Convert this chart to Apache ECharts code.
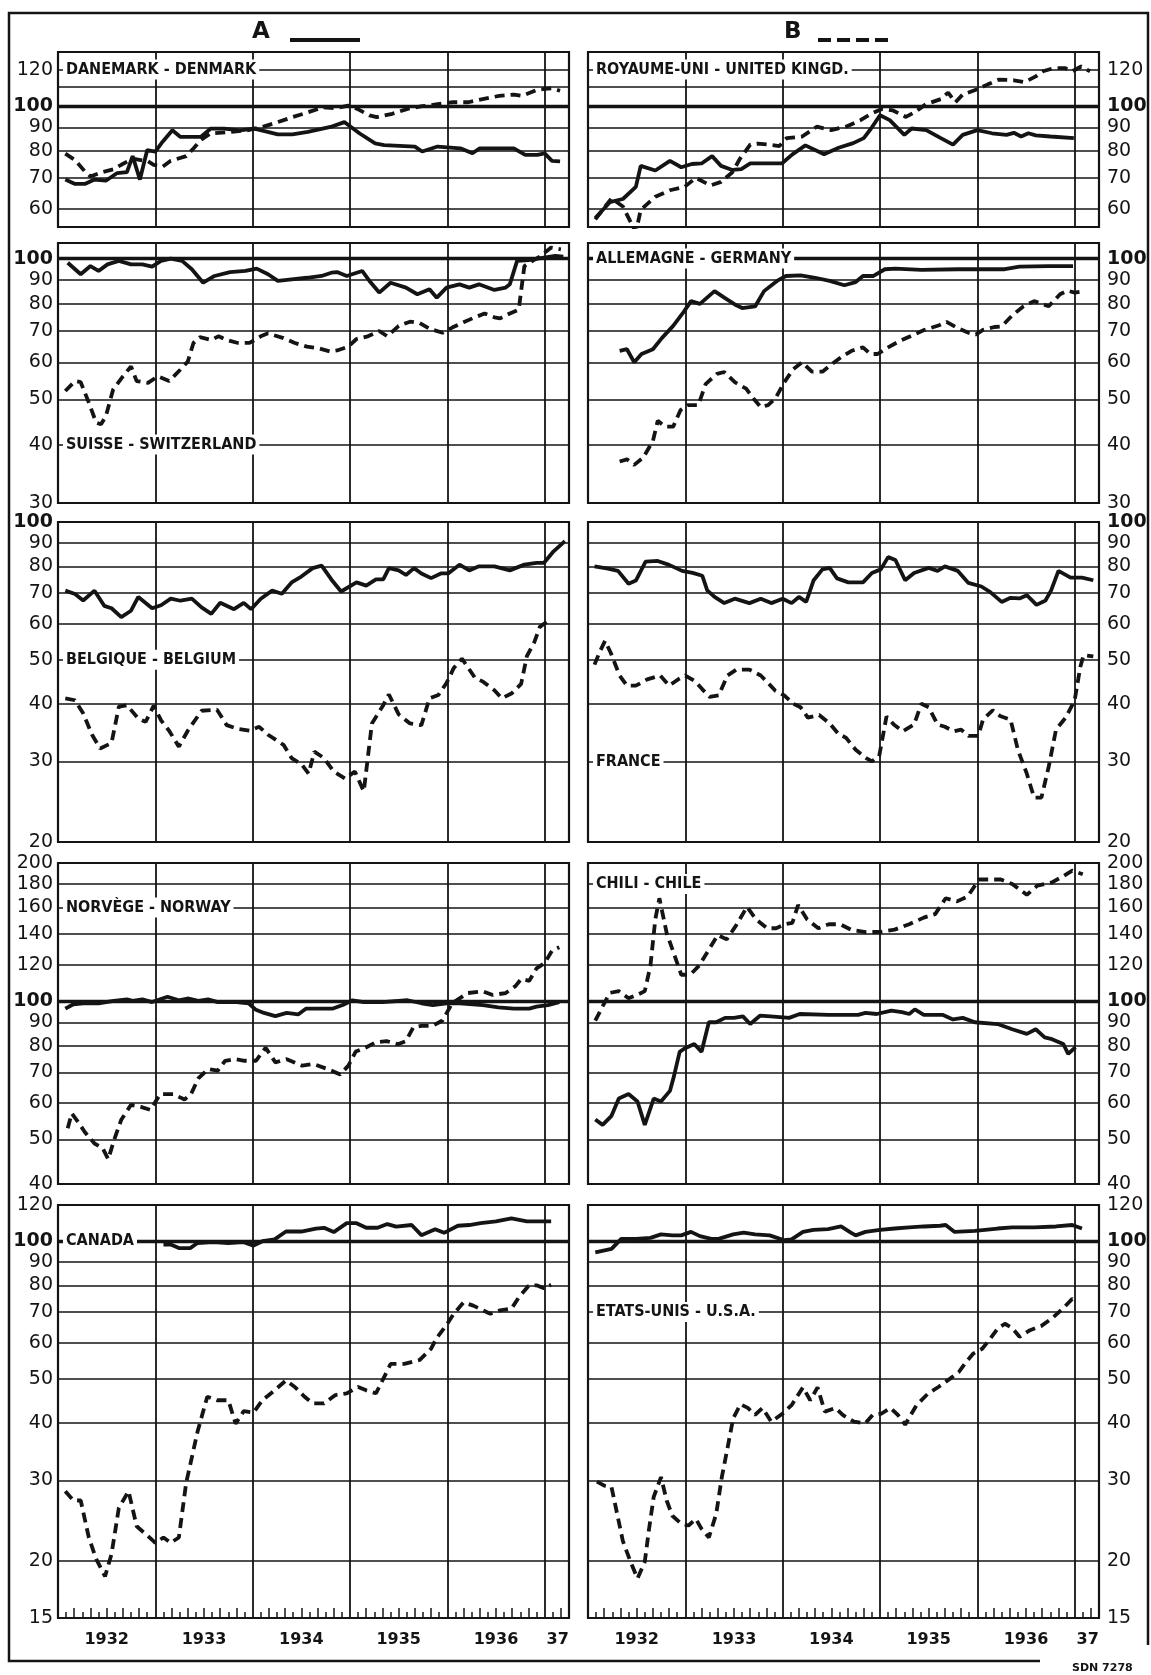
<!DOCTYPE html>
<html><head><meta charset="utf-8">
<script src="https://cdn.jsdelivr.net/npm/echarts@6/dist/echarts.min.js"></script>
<style>html,body{margin:0;padding:0;background:#fff}#c{width:1151px;height:1675px}</style>
</head><body><div id="c"></div>
<script>
// ---- DATA: [month since Jan 1932, index value] ----
const denmarkA = [[0.9,69.4],[2.1,67.9],[3.3,67.9],[4.5,69.4],[5.9,69.0],[7.3,71.7],[8.5,72],[9.2,78],[10.1,69.4],[11,80.4],[12,79.8],[12.9,83.8],[14.1,88.7],[15.1,85.8],[17.6,85.8],[18.8,89.4],[20.5,89.4],[22.4,88.7],[24.2,89.4],[27.1,86.9],[28.9,86.9],[30.8,88],[33.6,90.2],[35.3,92.4],[37.2,87.3],[39.1,83.1],[40.2,82.4],[42.1,82.1],[44,81.8],[44.9,79.8],[46.8,81.8],[49.6,81.1],[51.1,79.1],[52,81.1],[56.2,81.1],[57.6,78.5],[59.1,78.5],[60,79.1],[60.9,76.2],[61.9,76]];
const denmarkB = [[0.9,79],[2.1,76.5],[3.3,72.3],[4,70.5],[5.4,72],[6.8,73],[7.8,74.7],[9.2,77],[11.1,76],[11.8,74.7],[12.9,74],[13.9,76.2],[15.8,78],[16.7,81],[17.6,84.5],[18.8,87.3],[21.4,88],[23.3,88.7],[25.2,90.2],[27.1,92.4],[28.9,94.7],[30.8,97],[32.7,99.5],[34.1,99],[35.8,100.3],[36.9,98.7],[38.4,95.5],[39.3,94.7],[41.2,96.3],[43.1,98.7],[44.9,100],[46.8,101],[48.7,102],[50.6,102],[52.5,103.7],[54.4,105.3],[56.2,106],[57.2,105.3],[59.1,108.5],[60,109],[60.9,109.3],[61.9,108]];
const ukA = [[0.9,57.3],[2.7,62],[4.3,63],[5.9,66.9],[6.5,74.3],[8.3,72.6],[10.1,76.2],[11.5,73.8],[12.8,75],[14,75.2],[15.3,78],[16.4,74.3],[17.8,72.8],[18.9,73.1],[20,75.2],[21.8,75.2],[23.9,75.2],[25.2,78.7],[26.8,82.3],[29.1,78.7],[30.9,81.3],[32.7,83.2],[34,85.3],[34.9,89.5],[36,95.6],[37.2,93.3],[39,86.7],[39.9,89.5],[41.7,88.8],[43.5,85.3],[45,82.6],[46.2,86.7],[48,88.8],[49.8,87.4],[51.6,86.7],[52.5,87.6],[53.4,86],[54.3,87.4],[55.2,86.5],[57,86],[59.9,85.3]];
const ukB = [[0.9,56.9],[2.9,63.2],[4.3,60.7],[5.9,53.3],[6.5,59.7],[8.3,63.7],[10.1,65.8],[11.9,66.9],[13.3,70],[15.1,67.4],[16.4,68.6],[17.8,72],[18.7,76.8],[20,82.6],[20.9,83],[22.3,82.6],[23.6,82],[24.5,85.3],[26.4,86],[28.2,90.3],[30,88.8],[31.8,90.3],[33.6,93.3],[34.9,96.3],[36.3,98.7],[37.6,97.9],[39.2,94.8],[40.3,97.1],[41.7,101.1],[43.5,103.6],[44.4,107],[45.3,102],[46.2,106],[48,108.8],[49.3,111.5],[50.7,114.2],[52.5,113.8],[53.8,112.7],[55.2,116],[56.1,119],[57.4,120.9],[58.8,120.9],[59.7,119],[60.8,121.9],[61.9,119]];
const swissA = [[1.2,98],[2.8,92.6],[4,96.4],[5,94.1],[6.1,97.2],[7.5,98.9],[9,97.2],[10.4,97.2],[11.6,96.1],[12.7,98.9],[13.9,100],[15.3,98.9],[16.5,94.9],[17.9,88.8],[19.3,91.8],[21.2,93.6],[23.1,94.1],[24.5,95.2],[25.9,92.6],[27.1,89.6],[28.8,90.3],[30.7,91],[32.5,91.8],[33.7,93.3],[34.4,93.6],[35.6,91.8],[37.5,94.1],[38.4,89.6],[39.6,84.6],[41,88.8],[42.9,86.7],[44.3,83.9],[45.8,86],[46.7,82.5],[47.9,86.7],[49.5,88.1],[50.7,86.7],[51.9,88.1],[53.8,85.7],[55.2,86.7],[55.7,88.1],[56.6,98.9],[58,99.3],[59.9,100.5],[61.3,101.3],[62.3,101]];
const swissB = [[0.9,52.1],[2.1,54.7],[2.8,54.4],[3.8,49.2],[4.7,44.6],[5.3,44.2],[5.9,46],[6.8,52.5],[8,56],[9,58.8],[9.7,54.7],[11.1,54.2],[12.3,56],[13.7,54.7],[15.1,57.9],[16,60.2],[16.7,66],[17.5,67.9],[18.9,67],[19.8,68.2],[20.8,67],[22.2,66],[23.6,66],[25,68.2],[25.9,69.2],[27.8,67.6],[29.2,66],[30.7,64.8],[32.1,64.3],[33.5,63.3],[34.4,63.6],[35.8,64.8],[36.8,67.3],[38.2,68.2],[39.6,70],[40.6,68.2],[42,71.8],[43.4,73.3],[44.6,72.8],[45.8,70.8],[47.4,69.4],[48.6,71.2],[50,73.1],[51.4,74.9],[52.6,76.3],[53.8,74.9],[54.5,74.5],[55.7,76.3],[56.8,77.8],[57.5,96.4],[58.5,98.9],[59.4,101],[60.8,105.6],[62,104.7]];
const germanyA = [[3.9,63.5],[4.8,64],[5.7,60],[6.6,62.5],[8,64],[9.1,67.6],[10.5,71.8],[11.8,76.9],[12.7,81.1],[13.8,80],[15.6,85.2],[16.8,82.5],[18.1,79.8],[19,78.4],[20.6,79],[21.7,85.2],[23.3,89.6],[24.4,91.8],[26.2,92.1],[28,91],[29.8,89.6],[31.6,87.7],[33,89.1],[33.9,91.8],[35.2,91.8],[36.6,94.9],[37.9,95.2],[41.1,94.6],[45.6,94.9],[51.4,94.9],[53.2,96.1],[56.8,96.4],[59.8,96.4]];
const germanyB = [[3.9,36.8],[4.8,37.2],[5.7,36.2],[6.8,37.5],[8,40.7],[8.6,45],[9.5,43.7],[10.5,43.7],[11.4,47.4],[12.3,48.6],[13.6,48.6],[14.5,53.9],[15.9,56.7],[16.8,57.2],[18.1,54.4],[19.5,52.7],[20.4,50.2],[21.3,48.1],[22.2,48.6],[23.1,50.2],[24.2,54.4],[25.3,58],[26.4,60],[27.6,57.3],[28.9,57.3],[29.8,59],[31.2,61.5],[32.5,63.5],[33.9,64.6],[34.8,62.5],[35.7,62.5],[37,64.6],[38.4,66.6],[40.2,68.8],[41.5,70.4],[43.3,72],[44.2,73.2],[45.6,71],[46.9,69.4],[47.8,68.8],[48.7,70.4],[50.1,71.4],[51,71.6],[52.3,75.6],[53.7,79.1],[55,81.1],[56.8,79.1],[58.2,83.9],[59.1,85.4],[60,84.6],[60.9,85.1]];
const belgiumA = [[0.9,70.8],[2.1,69.6],[3.1,67.4],[4.5,70.8],[5.7,65.6],[6.6,64.8],[7.8,62],[9,64],[9.9,68.6],[11.6,64.8],[12.7,65.8],[13.9,68],[15.1,67.3],[16.5,68],[17.7,65.1],[18.9,63],[20,66.6],[21.7,64.5],[22.9,66.6],[23.8,64.5],[25,68],[26.4,70.8],[27.6,69.7],[28.8,73.8],[30,76],[31.4,79.3],[32.5,80.3],[33.7,74.9],[34.9,70.5],[36.8,73.8],[38,72.6],[39.2,74.9],[40.1,74.9],[40.8,79.3],[42,78.4],[42.9,76.6],[43.9,79.3],[44.8,77.2],[46,75.4],[47.2,77.2],[48.1,77.2],[49.5,80.7],[50.7,78.4],[51.9,80],[53.8,80],[55.7,78.4],[57.5,80.7],[59,81.4],[59.9,81.4],[61.1,86.3],[62.5,90.8]];
const belgiumB = [[0.9,41.2],[2.1,40.8],[3.1,38.2],[4.2,34.3],[5.2,32],[6.6,32.9],[7.5,39.5],[8.5,39.8],[9.9,37.2],[10.8,36.6],[11.8,39.7],[12.7,36.9],[13.7,35],[14.9,32.3],[16,35],[17.7,38.7],[19.6,38.9],[20.8,36],[22.2,35.3],[23.6,35],[24.8,35.7],[25.9,34.3],[27.8,32.6],[28.8,30.5],[30,29.6],[30.9,28.2],[31.6,31.5],[32.8,30.5],[34,28.5],[35.4,27.5],[36.6,28.5],[37.7,25.8],[38.7,36.3],[40.1,39.8],[40.8,42],[42,38],[43.4,36.3],[44.8,36],[45.8,41.2],[46.9,41.9],[47.9,44.5],[48.8,48],[49.8,50.3],[51.4,45.7],[52.4,44.8],[53.8,42.9],[54.7,41.2],[55.9,42.2],[57.1,44.3],[57.8,50.9],[58.7,54.5],[59.4,59],[60.8,61.5]];
const franceA = [[0.8,80],[2.3,79.2],[3.7,78.2],[5,73.3],[5.9,74.5],[7.1,81.9],[8.6,82.2],[10,80.6],[11.6,78.2],[12.9,77.4],[14.1,76.3],[14.7,70.9],[15.6,68.6],[16.8,66.5],[18.1,68],[19.9,66.5],[21.3,68],[22.6,66.5],[24,68],[25.1,66.5],[26,68.6],[26.9,66.9],[27.8,74.5],[28.9,78.8],[29.8,79.4],[30.7,75.3],[32.1,73.8],[33.9,73.8],[35,77.4],[36.1,78.8],[37,83.8],[37.9,82.6],[39.1,74.6],[40.2,77.4],[42,79.4],[43.1,78.2],[44,80],[45.6,78.2],[46.9,73.6],[48.5,72.3],[49.6,70.3],[51,66.9],[52.1,68.3],[53.2,68.1],[54.1,69.2],[55.3,65.9],[56.4,67.4],[57.1,70.9],[58,78.2],[59.5,75.6],[60.9,75.6],[62.3,74.6]];
const franceB = [[0.8,48.8],[1.4,51.8],[2.1,55],[2.8,51.8],[3.9,46.2],[4.8,43.9],[5.9,43.9],[7.3,45.3],[8.9,46.2],[10,43.9],[11.1,45.3],[12,46.2],[13.2,44.9],[14.1,43.1],[15,41.5],[16.1,41.8],[17.2,46.2],[18.3,47.6],[19.9,47.6],[21.3,46.2],[22.2,44.5],[23.1,42.8],[24.2,41.8],[25.3,40.1],[26.2,39.4],[27.1,37.4],[28.5,37.9],[29.8,36.3],[30.9,34.4],[31.8,33.8],[33,31.8],[34.3,30.5],[35,30],[35.9,30.8],[36.8,37.6],[37.7,36.1],[38.8,34.9],[40.2,36.1],[41.1,40.1],[42,39.4],[43.1,36.1],[44,35.7],[45.1,34.9],[46,35.2],[46.9,34.1],[48.1,34.1],[48.7,37],[49.9,38.8],[50.8,37.7],[52.1,37],[53,31.8],[54.1,28.2],[55,25],[55.9,25],[56.8,29.2],[57.7,35.2],[58.9,37.4],[60,40.8],[60.7,48.3],[61.1,51.2],[62.3,50.9]];
const norwayA = [[0.9,96.4],[1.9,98.5],[3.1,99],[5,99],[6.9,100.2],[8.5,100.9],[9.2,100.2],[10.4,100.9],[11.6,99.6],[13.5,102.3],[14.9,100.5],[16.1,101.4],[17.3,100.2],[18.5,100.9],[19.7,99.6],[22,99.6],[23.5,99],[24.4,95.8],[25.4,94.3],[26.8,92.8],[28.2,94.3],[29.6,93.6],[30.6,96.4],[33.9,96.4],[35.1,98.1],[36.3,100.5],[37.7,99.6],[40,99.6],[43.1,100.5],[44.8,99],[46.2,98.1],[47.9,99],[49.5,99],[52.4,98.1],[54.3,97],[56.2,96.4],[58.1,96.4],[59,97.3],[60.4,98.1],[61.8,99.6]];
const norwayB = [[1.2,52.9],[1.7,57],[2.6,54.2],[3.3,51.9],[4.5,49],[5.5,47.9],[6.2,45.3],[6.9,49.8],[7.8,55.2],[9,59.5],[10.2,58.9],[11.4,58],[12.6,62.8],[14.2,62.8],[15.6,61.1],[16.4,62.8],[17.3,67.9],[18.5,71.2],[19.7,70.6],[20.6,74.2],[21.8,74.8],[23,74.2],[24.4,74.2],[25.6,79.2],[26.8,73.6],[28.2,74.8],[30.1,72.4],[31.5,73],[33.2,71.2],[34.8,69.3],[35.8,72.4],[36.7,77.7],[37.9,79.2],[39.1,81.3],[40.5,81.9],[41.9,80.6],[42.9,81.9],[43.8,87.7],[44.8,88.4],[46.2,88.4],[47.4,90.8],[48.6,99],[50.5,104.2],[52.4,105.1],[53.6,103.2],[55.2,104.2],[56.4,107.9],[57.1,111.8],[58.1,110.8],[59,117.9],[60,121.1],[60.9,128.8],[61.8,131.1]];
const chileA = [[0.9,55.3],[1.8,53.8],[2.9,56.3],[3.8,61.4],[5,62.8],[6.1,60.5],[7,53.8],[8.1,61.4],[9,60.5],[10.1,63.8],[10.6,68.7],[11.3,77.6],[11.9,78.9],[13.1,80.7],[14,77.6],[14.9,90],[15.8,90],[16.9,92],[18,92],[19.1,92.7],[20,89.2],[21.2,93],[22.5,92.7],[24.8,92],[26.1,93.8],[29.7,93.4],[33.3,93.4],[34.2,94.3],[35.6,93.8],[37.4,95.4],[38.7,94.7],[39.6,93.8],[40.3,96],[41.4,93.4],[43.7,93.4],[45,91.3],[46.2,92],[47.7,90],[50.5,89.2],[52.3,86.9],[54.1,84.9],[55.2,86.9],[56.3,83.4],[57.2,82.7],[58.6,80.7],[59.2,76.8],[60.1,79.4]];
const chileB = [[0.9,90.7],[1.8,97.5],[2.7,104.3],[3.8,105.2],[5,101.5],[6.1,103.3],[7,105.2],[7.7,119.6],[8.3,150.9],[8.8,167.6],[9.7,140.8],[10.6,126.9],[11.5,114.2],[12.6,114.2],[13.7,119.6],[15.1,131.3],[16,139.4],[17.1,136.4],[18.2,145.7],[19.6,160.5],[20.7,150.9],[22.1,144.2],[23.2,144.2],[24.3,147.1],[25.2,148.2],[25.9,162],[27,150.9],[28.4,144.2],[29.7,147.1],[31.1,147.1],[32.4,143.2],[34.2,141.5],[36,141.5],[37.8,143.2],[39.6,147.1],[41.4,152.1],[42.8,154.8],[44.1,167.6],[45.5,165],[46.8,169],[48.2,184.1],[49.3,184.1],[50.9,184.1],[52.3,180],[54.1,170.5],[55.4,178.5],[57.2,181.5],[58.6,187.2],[59.7,192.5],[61,189]];
const canadaA = [[13,98.3],[13.9,98.3],[14.9,96.6],[16.3,96.6],[17.2,99.1],[19.1,99.5],[21,99.1],[22.9,99.5],[24.1,97.8],[25.2,100],[26.7,100.9],[28.1,105],[30,105],[31.8,106.6],[32.8,107],[34,104.7],[35.6,109.5],[36.8,109.5],[38,107],[39.4,107],[40.6,109],[41.7,107.6],[43.6,108.5],[44.8,103.1],[46.5,106.2],[47.6,104.3],[49.3,108.1],[50.7,108.5],[52.1,109.5],[54,110.5],[55.9,112.2],[57.8,110.5],[59.7,110.5],[60.8,110.5]];
const canadaB = [[0.9,28.4],[1.9,27.1],[2.8,27.1],[3.8,22.5],[4.7,20.2],[5.8,18.5],[6.6,20.7],[7.5,26.1],[8.7,28.4],[9.7,23.8],[10.8,22.9],[12,21.9],[13,22.5],[13.9,21.9],[14.9,22.5],[15.8,29.6],[17.2,38.3],[18.4,45.7],[19.6,44.9],[21,44.9],[21.9,39.9],[22.9,42.5],[24.1,42.2],[25.2,44.9],[26.7,47.2],[28.1,49.6],[29.2,48],[30.4,45.7],[31.4,44.2],[32.8,44.2],[34.2,46.1],[35.6,46.5],[37,48],[38,47.2],[39.2,46.5],[40.1,50],[41,53.9],[42.7,53.9],[44.6,55],[46,58.2],[46.7,61.5],[47.9,65.6],[48.8,69.4],[50,73.5],[51.2,72.3],[52.4,70.6],[53.3,69.4],[54.5,70.6],[55.9,71.2],[56.8,75.3],[58,79.8],[59,80.1],[59.9,78.9],[60.8,80.3]];
const usaA = [[0.9,94.5],[2.9,96.2],[4.1,101.2],[5.9,101.2],[7.7,101.7],[9,103.5],[10.4,103],[11.5,103],[12.7,104.8],[13.8,102.6],[15.2,101.2],[16.1,101.2],[17.9,103.5],[19.2,104.4],[20.6,103.5],[22.4,103],[24.2,100.5],[25.1,100.9],[26.5,104.8],[27.8,105.9],[29.6,106.3],[31.2,107.7],[32.4,104.4],[33,103],[34.2,104.8],[36,105.9],[37.8,106.6],[39.6,107.2],[41.4,107.7],[43.4,108.1],[44.1,108.5],[45.2,104.8],[47.7,105.3],[50.5,106.6],[52.3,107.2],[55,107.2],[57.7,107.7],[59.7,108.5],[60.9,106.6]];
const usaB = [[1.1,29.8],[2,29.2],[2.9,29],[3.6,25.3],[4.3,22.1],[5.2,20],[6.1,18.3],[7,19.9],[7.5,23.3],[8.1,27.6],[9,30.5],[9.7,27.1],[10.4,25.1],[11.5,24.1],[12.4,23.9],[13.3,24.7],[14,23.5],[14.9,22.5],[15.8,25.3],[16.5,30.5],[17.2,35.3],[17.9,41],[18.8,44],[19.7,43.2],[20.6,41.7],[21.5,43.2],[22.6,40.3],[24,42],[25.1,43.8],[26.5,47.9],[27.4,44.9],[28.3,47.9],[29.2,42.4],[30.5,43.2],[31.4,41.7],[32.8,40.3],[34.2,40],[35.1,41.7],[36.2,42],[37.3,43.2],[38.2,41.7],[39.1,39.7],[40.5,43.8],[41.9,46.4],[43.2,48],[44.6,50],[45.7,51.7],[46.6,54.4],[47.5,56.8],[48.6,58.2],[49.5,60.9],[50.5,64.4],[51.4,66],[52.3,64.6],[53.2,61.8],[54.5,63.9],[55.9,65.3],[57.2,67.8],[58.6,71.4],[59.7,74.8],[60,74.1]];

const yearLabels = ['1932','1933','1934','1935','1936','37'];
const yearLabelMonths = [6,18,30,42,54,61.6];
const monthTicks = [1,2,3,4,5,6,7,8,9,10,11,13,14,15,16,17,18,19,20,21,22,23,25,26,27,28,29,30,31,32,33,34,35,37,38,39,40,41,42,43,44,45,46,47,49,50,51,52,53,54,55,56,57,58,59,61,62];
const evenTicks = [2,4,6,8,10,14,16,18,20,22,26,28,30,32,34,38,40,42,44,46,50,52,54,56,58,62];

const grid1 = [60,70,80,90,100,110,120], ticks1 = [60,70,80,90,100,120];
const grid2 = [40,50,60,70,80,90,100], ticks2 = [30,40,50,60,70,80,90,100];
const grid3 = [30,40,50,60,70,80,90], ticks3 = [20,30,40,50,60,70,80,90,100];
const grid4 = [50,60,70,80,90,100,120,140,160,180], ticks4 = [40,50,60,70,80,90,100,120,140,160,180,200];
const grid5 = [20,30,40,50,60,70,80,90,100], ticks5 = [15,20,30,40,50,60,70,80,90,100,120];

const panels = [
  {name:'DANEMARK - DENMARK', a:denmarkA, b:denmarkB, col:0, row:0, min:54.8, max:131, lines:grid1, ticks:ticks1, titleAt:120},
  {name:'ROYAUME-UNI - UNITED KINGD.', a:ukA, b:ukB, col:1, row:0, min:54.8, max:131, lines:grid1, ticks:ticks1, titleAt:120},
  {name:'SUISSE - SWITZERLAND', a:swissA, b:swissB, col:0, row:1, min:30, max:108, lines:grid2, ticks:ticks2, titleAt:40},
  {name:'ALLEMAGNE - GERMANY', a:germanyA, b:germanyB, col:1, row:1, min:30, max:108, lines:grid2, ticks:ticks2, titleAt:100},
  {name:'BELGIQUE - BELGIUM', a:belgiumA, b:belgiumB, col:0, row:2, min:20, max:100, lines:grid3, ticks:ticks3, titleAt:50},
  {name:'FRANCE', a:franceA, b:franceB, col:1, row:2, min:20, max:100, lines:grid3, ticks:ticks3, titleAt:30},
  {name:'NORVÈGE - NORWAY', a:norwayA, b:norwayB, col:0, row:3, min:40, max:200, lines:grid4, ticks:ticks4, titleAt:160},
  {name:'CHILI - CHILE', a:chileA, b:chileB, col:1, row:3, min:40, max:200, lines:grid4, ticks:ticks4, titleAt:180},
  {name:'CANADA', a:canadaA, b:canadaB, col:0, row:4, min:15, max:120, lines:grid5, ticks:ticks5, titleAt:100},
  {name:'ETATS-UNIS - U.S.A.', a:usaA, b:usaB, col:1, row:4, min:15, max:120, lines:grid5, ticks:ticks5, titleAt:70}
];

// ---- LAYOUT ----
const colLeft = [58, 588], plotW = 511;
const rowTop = [52, 243, 522, 863, 1205], rowBot = [227, 503, 842, 1184, 1618];
const INK = '#141414';
const FONT = '"DejaVu Sans", "Liberation Sans", sans-serif';
const TFONT = '"DejaVu Sans Condensed", "DejaVu Sans", sans-serif';

const grids = [], xAxes = [], yAxes = [], series = [];
panels.forEach((p, i) => {
  grids.push({left: colLeft[p.col], top: rowTop[p.row], width: plotW, height: rowBot[p.row] - rowTop[p.row],
    show: true, borderColor: INK, borderWidth: 2.2, backgroundColor: 'transparent'});
  xAxes.push({gridIndex: i, type: 'value', min: 0, max: 63, interval: 12,
    axisLine: {show: false}, axisTick: {show: false}, axisLabel: {show: false},
    splitLine: {show: true, lineStyle: {color: INK, width: 1.8}}});
  yAxes.push({gridIndex: i, type: 'log', logBase: 10, min: p.min, max: p.max,
    axisLine: {show: false}, axisTick: {show: false}, axisLabel: {show: false}, splitLine: {show: false}});
});
// bottom-row month ticks and year labels (extra axes)
[8, 9].forEach(gi => {
  xAxes.push({gridIndex: gi, type: 'value', min: 0, max: 63, position: 'bottom',
    axisLine: {show: false}, splitLine: {show: false},
    axisTick: {show: true, inside: true, length: 6, customValues: monthTicks, lineStyle: {color: INK, width: 1.5}},
    axisLabel: {show: true, customValues: yearLabelMonths, margin: 14,
      formatter: v => yearLabels[yearLabelMonths.indexOf(v)],
      fontFamily: FONT, fontSize: 16, fontWeight: 'bold', color: INK}});
  xAxes.push({gridIndex: gi, type: 'value', min: 0, max: 63, position: 'bottom',
    axisLine: {show: false}, splitLine: {show: false}, axisLabel: {show: false},
    axisTick: {show: true, inside: true, length: 10, customValues: evenTicks, lineStyle: {color: INK, width: 1.5}}});
});

panels.forEach((p, i) => {
  const right = p.col === 1;
  const lineSet = Array.from(new Set(p.lines.concat(p.ticks)));
  const mlData = lineSet.map(v => {
    // keep edge labels just inside the axis extent so they are not filtered out
    const pos = Math.min(Math.max(v, p.min * 1.001), p.max * 0.999);
    const isLine = p.lines.indexOf(v) >= 0;
    return {
      yAxis: pos,
      lineStyle: {color: isLine ? INK : 'rgba(0,0,0,0)', type: 'solid', width: isLine ? (v === 100 ? 3.4 : 1.6) : 0.1},
      label: {show: p.ticks.indexOf(v) >= 0, position: right ? 'end' : 'start', distance: right ? 8 : 5,
        formatter: String(v), fontFamily: FONT, fontSize: 19, color: INK, opacity: 1,
        fontWeight: v === 100 ? 'bold' : 'normal'}
    };
  });
  series.push({type: 'line', xAxisIndex: i, yAxisIndex: i, data: p.a, showSymbol: false, z: 3,
    lineStyle: {color: INK, width: 3.8}, animation: false,
    markLine: {silent: true, symbol: ['none', 'none'], z: 1, animation: false,
      lineStyle: {type: 'solid', color: INK}, data: mlData}});
  series.push({type: 'line', xAxisIndex: i, yAxisIndex: i, data: p.b, showSymbol: false, z: 3,
    lineStyle: {color: INK, width: 3.8, type: [10, 6]}, animation: false});
});

const chart = echarts.init(document.getElementById('c'), null, {renderer: 'canvas'});
chart.setOption({
  backgroundColor: '#fff', animation: false,
  grid: grids, xAxis: xAxes, yAxis: yAxes, series: series
});

// titles on gridlines + frame/heading
const gfx = [
  {type: 'polyline', shape: {points: [[1040, 1661], [9, 1661], [9, 13], [1148, 13], [1148, 1645]]}, style: {fill: null, stroke: INK, lineWidth: 2.5}},
  {type: 'text', x: 252, y: 21, style: {text: 'A', font: 'bold 23px ' + FONT, fill: INK}},
  {type: 'line', shape: {x1: 290, y1: 40, x2: 360, y2: 40}, style: {stroke: INK, lineWidth: 3.8}},
  {type: 'text', x: 784, y: 21, style: {text: 'B', font: 'bold 23px ' + FONT, fill: INK}},
  {type: 'line', shape: {x1: 818, y1: 40, x2: 893, y2: 40}, style: {stroke: INK, lineWidth: 3.8, lineDash: [13, 6]}},
  {type: 'text', x: 1072, y: 1663, style: {text: 'SDN 7278', font: 'bold 11px ' + FONT, fill: INK}}
];
panels.forEach((p, i) => {
  const pt = chart.convertToPixel({xAxisIndex: i, yAxisIndex: i}, [0, p.titleAt]);
  gfx.push({type: 'text', x: pt[0] + 5, y: pt[1], z: 10,
    style: {text: p.name, font: 'bold 16px ' + TFONT, fill: INK, textVerticalAlign: 'middle', verticalAlign: 'middle',
      backgroundColor: '#fff', padding: [2, 3]}});
});
chart.setOption({graphic: gfx});
</script>
</body></html>
